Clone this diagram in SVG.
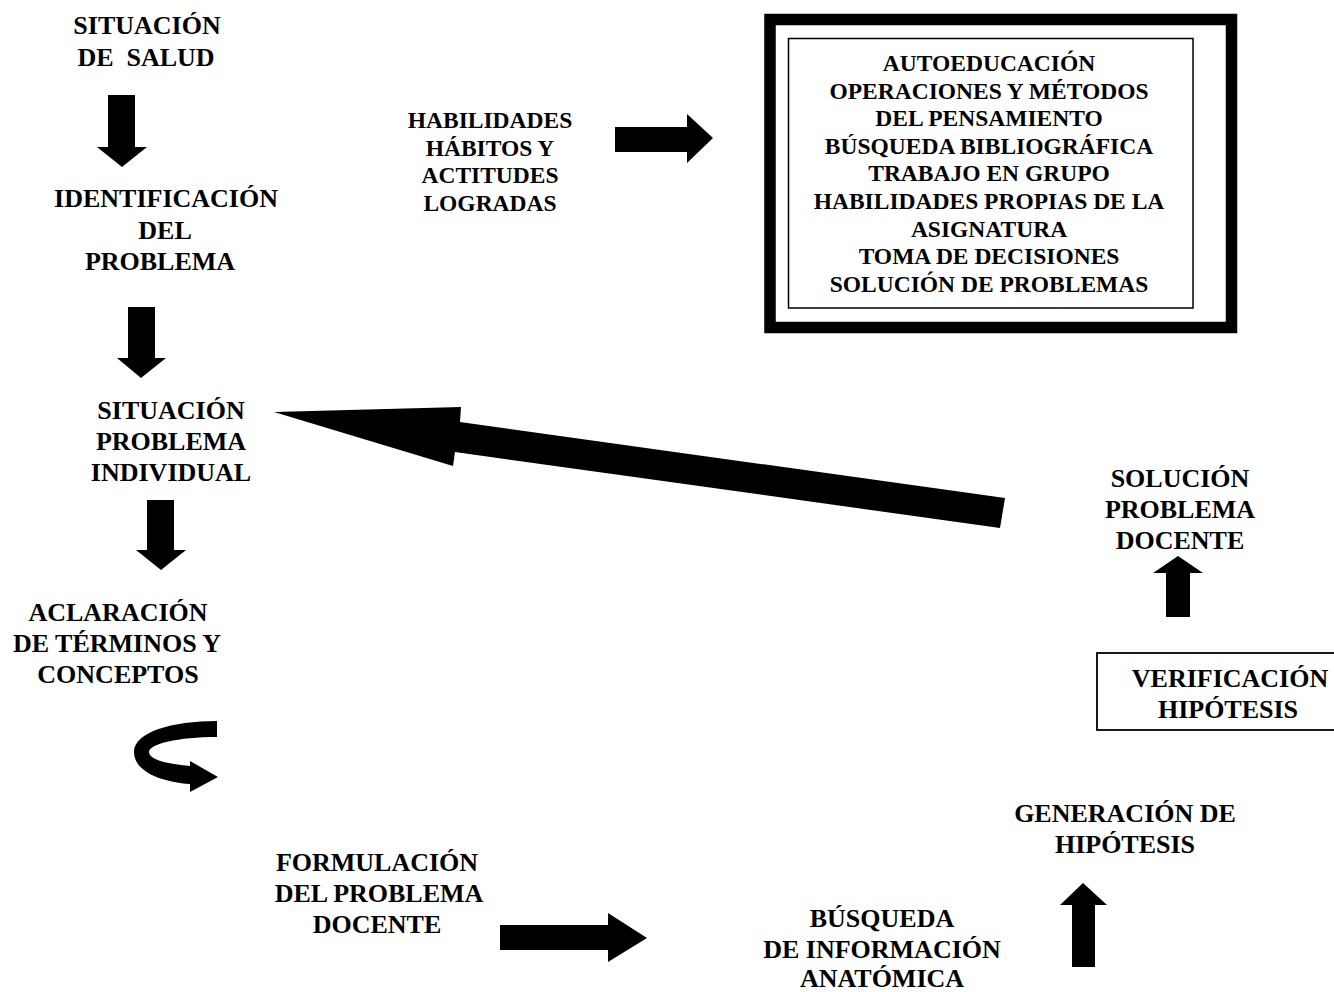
<svg xmlns="http://www.w3.org/2000/svg" width="1334" height="992" viewBox="0 0 1334 992">
<style>
text{font-family:"Liberation Serif","Times New Roman",serif;font-weight:bold;fill:#000;text-anchor:middle}
.l{font-size:26px}
.s{font-size:23.5px}
.arr{fill:#000;stroke:none}
</style>
<rect width="1334" height="992" fill="#fff"/>
<g id="n-situacion-salud">
<text class="l" x="147" y="34">SITUACIÓN</text>
<text class="l" x="146" y="66" xml:space="preserve">DE  SALUD</text>
</g>
<g id="n-identificacion">
<text class="l" x="166" y="207">IDENTIFICACIÓN</text>
<text class="l" x="165" y="239">DEL</text>
<text class="l" x="160" y="270">PROBLEMA</text>
</g>
<g id="n-situacion-individual">
<text class="l" x="171" y="419">SITUACIÓN</text>
<text class="l" x="171" y="450">PROBLEMA</text>
<text class="l" x="171" y="481">INDIVIDUAL</text>
</g>
<g id="n-aclaracion">
<text class="l" x="118" y="621">ACLARACIÓN</text>
<text class="l" x="117" y="652">DE TÉRMINOS Y</text>
<text class="l" x="118" y="683">CONCEPTOS</text>
</g>
<g id="n-formulacion">
<text class="l" x="377" y="871">FORMULACIÓN</text>
<text class="l" x="379" y="902">DEL PROBLEMA</text>
<text class="l" x="377" y="933">DOCENTE</text>
</g>
<g id="n-busqueda">
<text class="l" x="882" y="927">BÚSQUEDA</text>
<text class="l" x="882" y="958">DE INFORMACIÓN</text>
<text class="l" x="882" y="987">ANATÓMICA</text>
</g>
<g id="n-generacion">
<text class="l" x="1125" y="822">GENERACIÓN DE</text>
<text class="l" x="1125" y="853">HIPÓTESIS</text>
</g>
<g id="n-verificacion">
<rect x="1097" y="653" width="250" height="77" fill="none" stroke="#000" stroke-width="1.8"/>
<text class="l" x="1230" y="687">VERIFICACIÓN</text>
<text class="l" x="1228" y="718">HIPÓTESIS</text>
</g>
<g id="n-solucion">
<text class="l" x="1180" y="487">SOLUCIÓN</text>
<text class="l" x="1180" y="518">PROBLEMA</text>
<text class="l" x="1180" y="549">DOCENTE</text>
</g>
<g id="n-habilidades">
<text class="s" x="490" y="128">HABILIDADES</text>
<text class="s" x="490" y="156">HÁBITOS Y</text>
<text class="s" x="490" y="183">ACTITUDES</text>
<text class="s" x="490" y="211">LOGRADAS</text>
</g>
<g id="n-box">
<rect x="770" y="19.5" width="461.5" height="308" fill="none" stroke="#000" stroke-width="11.5"/>
<rect x="788.5" y="38.5" width="404.5" height="269.5" fill="none" stroke="#000" stroke-width="1.5"/>
<text class="s" x="989" y="71">AUTOEDUCACIÓN</text>
<text class="s" x="989" y="98.6">OPERACIONES Y MÉTODOS</text>
<text class="s" x="989" y="126.2">DEL PENSAMIENTO</text>
<text class="s" x="989" y="153.8">BÚSQUEDA BIBLIOGRÁFICA</text>
<text class="s" x="989" y="181.4">TRABAJO EN GRUPO</text>
<text class="s" x="989" y="209">HABILIDADES PROPIAS DE LA</text>
<text class="s" x="989" y="236.6">ASIGNATURA</text>
<text class="s" x="989" y="264.2">TOMA DE DECISIONES</text>
<text class="s" x="989" y="291.8">SOLUCIÓN DE PROBLEMAS</text>
</g>
<g id="connectors">
<polygon class="arr" points="108,95 135,95 135,147 147,147 122,167 97,147 108,147"/>
<polygon class="arr" points="128,307 155,307 155,358 166,358 141,378 117,358 128,358"/>
<polygon class="arr" points="147,500 174,500 174,550 186,550 161,570 136,550 147,550"/>
<polygon class="arr" points="615,127 687,127 687,114 713,138 687,163 687,152 615,152"/>
<polygon class="arr" points="500,925 608,925 608,913 647,938 608,962 608,950 500,950"/>
<polygon class="arr" points="1166,617 1166,573 1153,573 1178,556 1203,573 1190,573 1190,617"/>
<polygon class="arr" points="1072,967 1072,905 1060,905 1083,883 1107,905 1095,905 1095,967"/>
<polygon class="arr" points="274,412 461,407 460,422 1005,498 1000,528 455,452 453,466"/>
<path class="arr" d="M217,721 C172,721 134,732 134,752 C134,772 162,782 190,784 L190,792 L218,777 L190,761 L190,766 C168,764 149,760 149,752 C149,744 178,737 217,737 Z"/>
</g>
</svg>
